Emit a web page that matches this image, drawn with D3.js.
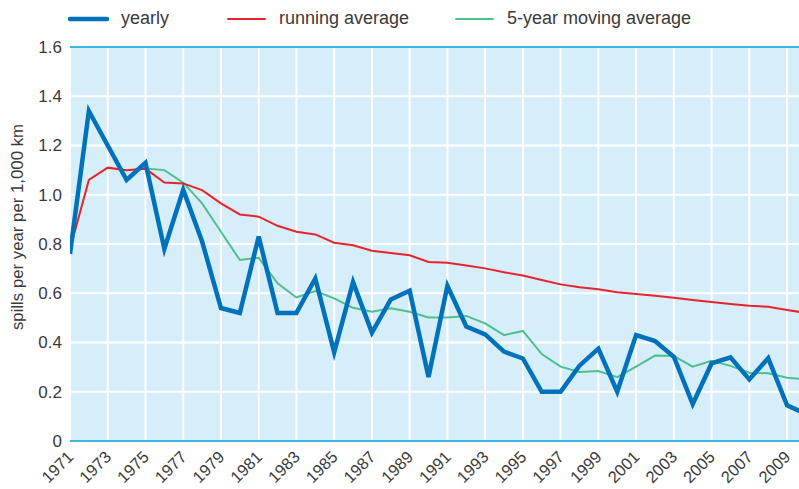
<!DOCTYPE html>
<html>
<head>
<meta charset="utf-8">
<script src="https://cdn.jsdelivr.net/npm/d3@7"></script>
<style>
  body { margin: 0; background: #fff; }
  text { font-family: "Liberation Sans", Arial, sans-serif; fill: #3a3a3a; }
</style>
</head>
<body>
<div id="chart"></div>
<script>
// spills per year per 1,000 km
var years = d3.range(1971, 2011);
var yearly = [0.76, 1.34, 1.20, 1.06, 1.13, 0.78, 1.02, 0.81, 0.54, 0.52,
  0.83, 0.52, 0.52, 0.66, 0.36, 0.645, 0.44, 0.575, 0.61, 0.26,
  0.63, 0.465, 0.433, 0.363, 0.335, 0.20, 0.20, 0.306, 0.375, 0.20,
  0.43, 0.406, 0.342, 0.15, 0.315, 0.34, 0.25, 0.336, 0.145, 0.11];
var running = [0.78, 1.06, 1.11, 1.10, 1.106, 1.05, 1.046, 1.019, 0.965, 0.92,
  0.911, 0.874, 0.85, 0.839, 0.805, 0.795, 0.773, 0.763, 0.754, 0.727,
  0.724, 0.713, 0.701, 0.685, 0.672, 0.654, 0.636, 0.624, 0.616, 0.604,
  0.597, 0.59, 0.582, 0.573, 0.564, 0.556, 0.549, 0.545, 0.532, 0.52];
// 5-year moving average starts in 1975
var moving = [null, null, null, null, 1.107, 1.10, 1.049, 0.965, 0.85, 0.735,
  0.744, 0.64, 0.583, 0.609, 0.579, 0.541, 0.525, 0.539, 0.525, 0.502,
  0.502, 0.508, 0.478, 0.43, 0.447, 0.353, 0.302, 0.28, 0.284, 0.259,
  0.302, 0.347, 0.345, 0.302, 0.326, 0.305, 0.277, 0.275, 0.257, 0.25];
var yTicks = [0, 0.2, 0.4, 0.6, 0.8, 1.0, 1.2, 1.4, 1.6];
var xTicks = d3.range(1971, 2011, 2);

var series = [
  {name: "yearly", values: yearly, color: "#0071bb", width: 4.5},
  {name: "running average", values: running, color: "#e7242b", width: 2},
  {name: "5-year moving average", values: moving, color: "#4fbf8f", width: 2}
];

var W = 799, H = 489;
var plotLeft = 70, plotTop = 47, plotBottom = 441;

var x = d3.scaleLinear().domain([1971, 2010]).range([plotLeft, plotLeft + 39 * 18.87]);
var y = d3.scaleLinear().domain([0, 1.6]).range([plotBottom, plotTop]);

var svg = d3.select("#chart").append("svg")
  .attr("width", W).attr("height", H);

svg.append("defs").append("clipPath").attr("id", "plot")
  .append("rect").attr("x", plotLeft).attr("y", plotTop - 5)
  .attr("width", W - plotLeft).attr("height", plotBottom - plotTop + 5);

svg.append("rect")
  .attr("x", plotLeft).attr("y", plotTop)
  .attr("width", W - plotLeft).attr("height", plotBottom - plotTop)
  .attr("fill", "#d6edfa");

// grid
var grid = svg.append("g").attr("clip-path", "url(#plot)");
grid.selectAll(".gx").data(xTicks).enter().append("line")
  .attr("x1", function(d) { return x(d); }).attr("x2", function(d) { return x(d); })
  .attr("y1", plotTop).attr("y2", plotBottom)
  .attr("stroke", "#fff").attr("stroke-width", 2);
grid.selectAll(".gy").data(yTicks.slice(1, -1)).enter().append("line")
  .attr("x1", plotLeft).attr("x2", W)
  .attr("y1", function(d) { return y(d); }).attr("y2", function(d) { return y(d); })
  .attr("stroke", "#fff").attr("stroke-width", 2);

// top and bottom rules
[0, 1.6].forEach(function(v) {
  svg.append("line")
    .attr("x1", plotLeft).attr("x2", W)
    .attr("y1", y(v)).attr("y2", y(v))
    .attr("stroke", "#3db5e8").attr("stroke-width", 2);
});

// y axis
var yAxis = svg.append("g")
  .attr("transform", "translate(" + plotLeft + ",0)")
  .call(d3.axisLeft(y).tickValues(yTicks).tickSize(0).tickPadding(8)
    .tickFormat(function(d) { return d === 0 ? "0" : d3.format(".1f")(d); }));
yAxis.select(".domain").remove();
yAxis.selectAll("text").style("font-size", "17px").attr("fill", "#3a3a3a")
  .style("font-family", "Liberation Sans, Arial, sans-serif");

svg.append("text")
  .attr("transform", "translate(23,227) rotate(-90)")
  .attr("text-anchor", "middle")
  .style("font-size", "16.8px")
  .text("spills per year per 1,000 km");

// x axis
var xAxis = svg.append("g")
  .attr("transform", "translate(0," + plotBottom + ")")
  .call(d3.axisBottom(x).tickValues(xTicks).tickSize(0).tickFormat(d3.format("d")));
xAxis.select(".domain").remove();
xAxis.selectAll("text")
  .style("font-size", "16.5px").attr("fill", "#3a3a3a")
  .style("font-family", "Liberation Sans, Arial, sans-serif")
  .attr("text-anchor", "end")
  .attr("dy", null).attr("y", 0)
  .attr("transform", "translate(4,17) rotate(-45)");

// lines
var line = d3.line()
  .defined(function(d) { return d.v != null; })
  .x(function(d) { return x(d.year); })
  .y(function(d) { return y(d.v); });

var plot = svg.append("g").attr("clip-path", "url(#plot)");
[series[2], series[1], series[0]].forEach(function(s) {
  plot.append("path")
    .datum(years.map(function(yr, i) { return {year: yr, v: s.values[i]}; }))
    .attr("fill", "none")
    .attr("stroke", s.color)
    .attr("stroke-width", s.width)
    .attr("stroke-linejoin", "miter")
    .attr("d", line);
});

// legend
var legendX = [70, 228, 456];
var legend = svg.append("g").selectAll("g").data(series).enter().append("g")
  .attr("transform", function(d, i) { return "translate(" + legendX[i] + ",19)"; });
legend.append("line")
  .attr("x1", 0).attr("x2", 37).attr("y1", 0).attr("y2", 0)
  .attr("stroke", function(d) { return d.color; })
  .attr("stroke-width", function(d) { return d.width === 2 ? 2 : 4.5; })
  .attr("stroke-linecap", "round");
legend.append("text")
  .attr("x", 51).attr("y", 4.5)
  .style("font-size", "18px")
  .text(function(d) { return d.name; });
</script>
</body>
</html>
